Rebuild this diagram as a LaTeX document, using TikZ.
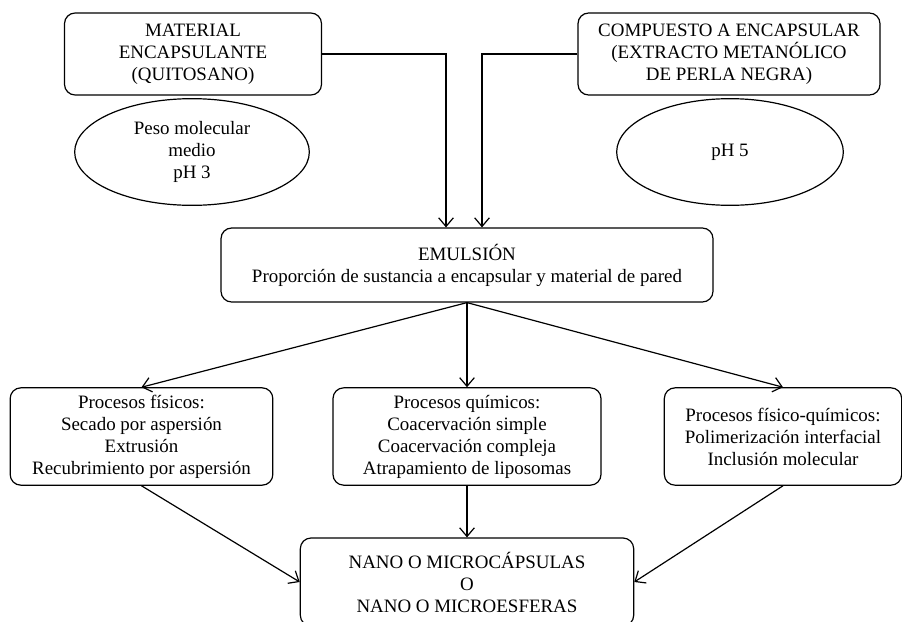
\documentclass[tikz,border=0pt]{standalone}
\usepackage{fontspec}
\setmainfont{Liberation Serif}
\usetikzlibrary{arrows.meta,shapes.geometric}

\tikzset{
    txt/.style={font=\fontsize{14.2}{16.5}\selectfont, align=center, inner sep=1pt},
    rbox/.style={txt, draw, line width=0.9pt, rounded corners=8pt},
    oval/.style={txt, draw, line width=0.9pt, ellipse},
    arr/.style={line width=0.9pt, -{Straight Barb[length=6.5pt,width=11pt]}}
}

\begin{document}
\begin{tikzpicture}[x=0.75pt,y=-0.75pt]
    \useasboundingbox (0,0) rectangle (902,621);
    % Draw top boxes and ovals
    \node[rbox, minimum width=192.75pt, minimum height=61.5pt] (mat) at (193,54)
        {MATERIAL\\ENCAPSULANTE\\(QUITOSANO)};
    \node[rbox, minimum width=226.5pt, minimum height=61.5pt] (comp) at (729,54)
        {COMPUESTO A ENCAPSULAR\\(EXTRACTO METANÓLICO\\DE PERLA NEGRA)};
    \node[oval, minimum width=176pt, minimum height=80pt] (pm) at (192,152)
        {Peso molecular\\medio\\pH 3};
    \node[oval, minimum width=170pt, minimum height=80pt] (ph) at (730,152) {pH 5};
    % Draw emulsion box
    \node[rbox, minimum width=369pt, minimum height=55.5pt] (emul) at (467,265)
        {EMULSIÓN\\Proporción de sustancia a encapsular y material de pared};
    % Draw process boxes
    \node[rbox, minimum width=197pt, minimum height=73pt] (fis) at (141.5,436.5)
        {Procesos físicos:\\Secado por aspersión\\Extrusión\\Recubrimiento por aspersión};
    \node[rbox, minimum width=201pt, minimum height=73pt] (qui) at (467,436.5)
        {Procesos químicos:\\Coacervación simple\\Coacervación compleja\\Atrapamiento de liposomas};
    \node[rbox, minimum width=178pt, minimum height=73pt] (fq) at (783,436.5)
        {Procesos físico-químicos:\\Polimerización interfacial\\Inclusión molecular};
    % Draw product box
    \node[rbox, minimum width=250pt, minimum height=66pt] (nano) at (467,582)
        {NANO O MICROCÁPSULAS\\O\\NANO O MICROESFERAS};
    % Draw connectors
    \draw[arr] (mat.east) -| ([xshift=-15.75pt]emul.north);
    \draw[arr] (comp.west) -| ([xshift=11.25pt]emul.north);
    \draw[arr] (emul.south) -- (fis.north);
    \draw[arr] (emul.south) -- (qui.north);
    \draw[arr] (emul.south) -- (fq.north);
    \draw[arr] (fis.south) -- (nano.west);
    \draw[arr] (qui.south) -- (nano.north);
    \draw[arr] (fq.south) -- (nano.east);
\end{tikzpicture}
\end{document}
